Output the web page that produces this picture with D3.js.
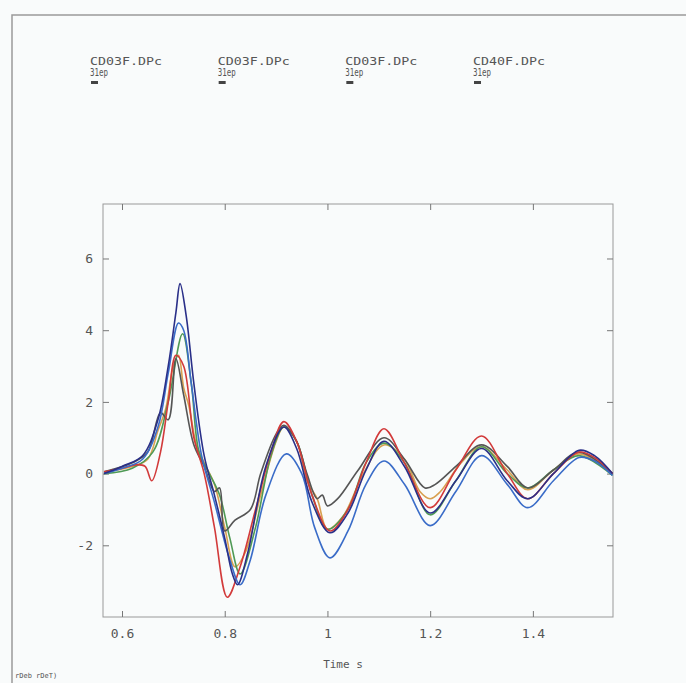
<!DOCTYPE html>
<html>
<head>
<meta charset="utf-8">
<title>Time series</title>
<script src="https://d3js.org/d3.v7.min.js"></script>
<style>
    body { margin: 0; background: #f9fbfb; }
    svg { display: block; }
    text { font-family: "DejaVu Sans Mono", monospace; fill: #555; }
</style>
</head>
<body>
<div id="chart"></div>
<script>
// x ticks and y ticks
const xTicks = [0.6, 0.8, 1, 1.2, 1.4];
const yTicks = [-2, 0, 2, 4, 6];

const legendNames = ["CD03F.DPc", "CD03F.DPc", "CD03F.DPc", "CD40F.DPc"];
const legendSub = ["31ep", "31ep", "31ep", "31ep"];

// each series: times and values
const redT = [0.565, 0.6, 0.63, 0.645, 0.658, 0.675, 0.69, 0.705, 0.72, 0.74, 0.76, 0.78, 0.805, 0.83, 0.86, 0.89, 0.915, 0.94, 0.97, 1.005, 1.04, 1.075, 1.11, 1.15, 1.2, 1.25, 1.3, 1.35, 1.39, 1.44, 1.49, 1.52, 1.555];
const redV = [0.05, 0.15, 0.25, 0.2, -0.2, 0.6, 2.0, 3.3, 3.0, 1.0, 0.0, -1.5, -3.45, -2.6, -1.0, 0.6, 1.45, 0.9, -0.6, -1.6, -1.0, 0.3, 1.25, 0.3, -0.95, 0.1, 1.05, 0.0, -0.7, 0.0, 0.6, 0.45, 0.0];

const orangeT = [0.565, 0.62, 0.65, 0.67, 0.685, 0.7, 0.71, 0.72, 0.73, 0.745, 0.76, 0.78, 0.8, 0.82, 0.84, 0.87, 0.9, 0.915, 0.94, 0.96, 0.98, 1.0, 1.03, 1.07, 1.11, 1.15, 1.18, 1.2, 1.22, 1.26, 1.3, 1.35, 1.39, 1.44, 1.49, 1.555];
const orangeV = [0.05, 0.2, 0.4, 1.2, 1.8, 3.0, 3.3, 2.4, 1.9, 0.8, 0.3, -0.3, -1.5, -2.6, -2.2, -0.6, 0.9, 1.3, 0.9, -0.2, -0.7, -1.55, -1.2, 0.0, 0.8, 0.4, -0.5, -0.7, -0.5, 0.3, 0.75, 0.1, -0.45, 0.1, 0.55, 0.0];

const greenT = [0.565, 0.62, 0.66, 0.69, 0.718, 0.735, 0.75, 0.77, 0.79, 0.81, 0.83, 0.86, 0.89, 0.915, 0.94, 0.97, 1.0, 1.04, 1.075, 1.11, 1.15, 1.2, 1.25, 1.3, 1.35, 1.39, 1.44, 1.49, 1.555];
const greenV = [0.0, 0.15, 0.6, 2.0, 3.9, 2.5, 0.6, 0.0, -0.6, -1.8, -2.8, -1.5, 0.5, 1.3, 0.9, -0.6, -1.55, -1.0, 0.3, 0.85, 0.3, -1.15, -0.2, 0.75, 0.0, -0.4, 0.1, 0.5, -0.05];

const grayT = [0.565, 0.62, 0.65, 0.675, 0.69, 0.705, 0.72, 0.74, 0.76, 0.78, 0.79, 0.8, 0.82, 0.85, 0.87, 0.9, 0.915, 0.94, 0.96, 0.98, 0.99, 1.0, 1.02, 1.06, 1.11, 1.15, 1.19, 1.21, 1.25, 1.3, 1.35, 1.39, 1.44, 1.49, 1.555];
const grayV = [0.05, 0.3, 0.6, 1.7, 1.5, 3.2, 2.2, 0.8, 0.2, -0.5, -0.4, -1.6, -1.3, -1.0, 0.0, 1.1, 1.35, 0.9, 0.0, -0.7, -0.6, -0.9, -0.7, 0.1, 1.0, 0.4, -0.4, -0.3, 0.2, 0.8, 0.2, -0.4, 0.1, 0.6, 0.0];

const navyT = [0.565, 0.6, 0.64, 0.67, 0.69, 0.705, 0.713, 0.725, 0.74, 0.76, 0.78, 0.8, 0.815, 0.825, 0.845, 0.88, 0.915, 0.94, 0.97, 1.005, 1.04, 1.075, 1.11, 1.15, 1.2, 1.25, 1.3, 1.35, 1.39, 1.44, 1.49, 1.52, 1.555];
const navyV = [0.0, 0.2, 0.5, 1.5, 3.0, 4.5, 5.3, 4.4, 2.5, 0.5, -0.6, -1.8, -2.8, -3.1, -2.2, 0.2, 1.3, 0.7, -0.8, -1.65, -1.1, 0.1, 0.9, 0.2, -1.1, -0.2, 0.7, -0.2, -0.7, 0.0, 0.65, 0.5, 0.0];

const blueT = [0.565, 0.6, 0.64, 0.67, 0.69, 0.71, 0.72, 0.735, 0.755, 0.78, 0.81, 0.83, 0.85, 0.88, 0.92, 0.95, 0.975, 1.005, 1.04, 1.075, 1.11, 1.15, 1.2, 1.25, 1.3, 1.35, 1.39, 1.44, 1.49, 1.52, 1.555];
const blueV = [0.0, 0.15, 0.4, 1.3, 2.8, 4.2, 4.0, 2.5, 0.5, -0.8, -2.4, -3.1, -2.4, -0.6, 0.55, 0.0, -1.5, -2.35, -1.6, -0.3, 0.35, -0.3, -1.45, -0.5, 0.5, -0.3, -0.95, -0.2, 0.45, 0.35, -0.05];

const series = [
    { t: orangeT, v: orangeV, color: "#d8a050" },
    { t: greenT, v: greenV, color: "#4f9a55" },
    { t: grayT, v: grayV, color: "#555555" },
    { t: redT, v: redV, color: "#d23a3a" },
    { t: blueT, v: blueV, color: "#3a6cc8" },
    { t: navyT, v: navyV, color: "#2a2f88" }
];

const W = 686, H = 683;
const margin = { top: 204, left: 103 };
const width = 510, height = 413;

const svg = d3.select("#chart").append("svg")
    .attr("width", W)
    .attr("height", H);

// outer frame of the page
svg.append("rect")
    .attr("x", 12).attr("y", 15)
    .attr("width", 690).attr("height", 690)
    .attr("fill", "none")
    .attr("stroke", "#9a9a9a")
    .attr("stroke-width", 1.5);

const x = d3.scaleLinear().domain([0.563, 1.556]).range([0, width]);
const y = d3.scaleLinear().domain([-4.0, 7.52]).range([height, 0]);

const g = svg.append("g")
    .attr("transform", "translate(" + margin.left + "," + margin.top + ")");

g.append("rect")
    .attr("width", width).attr("height", height)
    .attr("fill", "none")
    .attr("stroke", "#999")
    .attr("stroke-width", 1);

// inward ticks on all four sides
const fmt = d => String(d);
const xb = g.append("g").attr("transform", "translate(0," + height + ")")
    .call(d3.axisBottom(x).tickValues(xTicks).tickFormat(fmt).tickSizeInner(-6).tickSizeOuter(0).tickPadding(12));
const xt = g.append("g")
    .call(d3.axisTop(x).tickValues(xTicks).tickFormat("").tickSizeInner(-6).tickSizeOuter(0));
const yl = g.append("g")
    .call(d3.axisLeft(y).tickValues(yTicks).tickFormat(fmt).tickSizeInner(-6).tickSizeOuter(0).tickPadding(10));
const yr = g.append("g").attr("transform", "translate(" + width + ",0)")
    .call(d3.axisRight(y).tickValues(yTicks).tickFormat("").tickSizeInner(-6).tickSizeOuter(0));

[xb, xt, yl, yr].forEach(a => {
    a.select(".domain").remove();
    a.selectAll("line").attr("stroke", "#777");
    a.selectAll("text")
        .attr("fill", "#666")
        .style("font-family", "'DejaVu Sans Mono', monospace")
        .style("font-size", "13px");
});

const line = d3.line()
    .x(d => x(d[0]))
    .y(d => y(d[1]))
    .curve(d3.curveCatmullRom.alpha(0.5));

series.forEach(s => {
    g.append("path")
        .datum(d3.zip(s.t, s.v))
        .attr("fill", "none")
        .attr("stroke", s.color)
        .attr("stroke-width", 1.6)
        .attr("d", line);
});

// x axis title
svg.append("text")
    .attr("x", 343).attr("y", 668)
    .attr("text-anchor", "middle")
    .style("font-size", "11px")
    .attr("fill", "#555")
    .text("Time s");

svg.append("text")
    .attr("x", 15).attr("y", 678)
    .style("font-size", "7px")
    .attr("fill", "#555")
    .text("rDeb rDeT)");

// legend across the top
const legendX = d3.scalePoint().domain(d3.range(legendNames.length)).range([90, 473]);
const lg = svg.selectAll(".legend")
    .data(legendNames)
    .enter().append("g")
    .attr("class", "legend")
    .attr("transform", (d, i) => "translate(" + legendX(i) + ",0)");

lg.append("text")
    .attr("y", 65)
    .attr("textLength", 72)
    .attr("lengthAdjust", "spacingAndGlyphs")
    .style("font-size", "11px")
    .attr("fill", "#555")
    .text(d => d);

lg.append("text")
    .attr("y", 76)
    .attr("textLength", 18)
    .attr("lengthAdjust", "spacingAndGlyphs")
    .style("font-size", "10px")
    .attr("fill", "#555")
    .text((d, i) => legendSub[i]);

lg.append("rect")
    .attr("x", 1).attr("y", 81)
    .attr("width", 7).attr("height", 3)
    .attr("fill", "#444");
</script>
</body>
</html>
